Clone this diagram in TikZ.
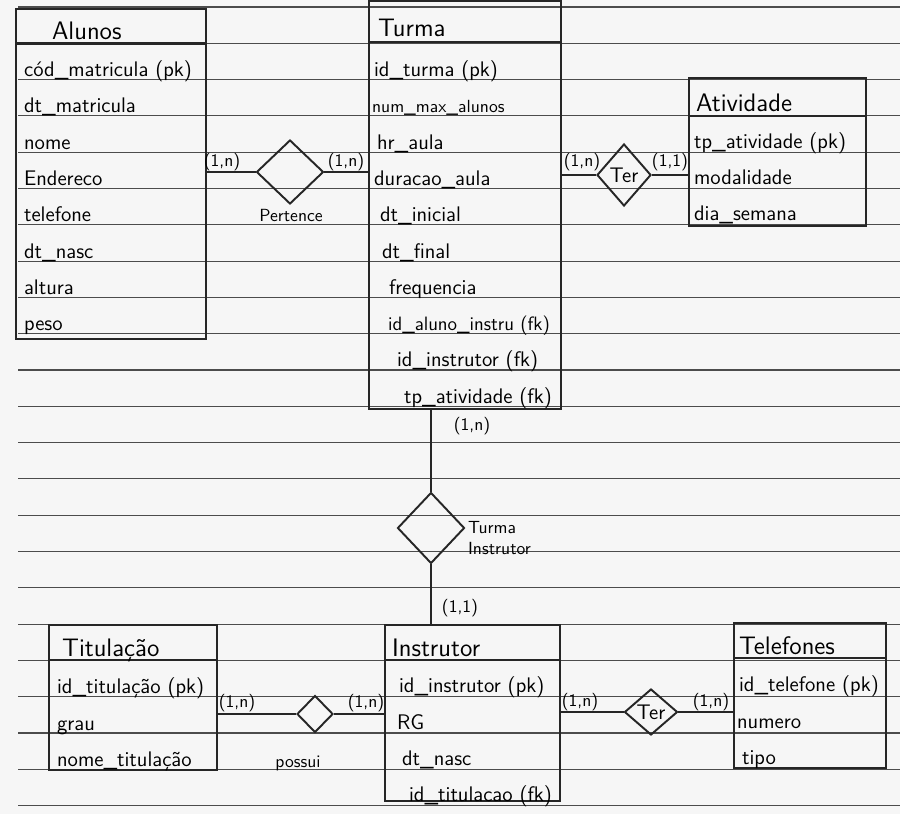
\documentclass[tikz,border=0pt]{standalone}
\usepackage{tikz}
\usetikzlibrary{shapes.geometric,positioning}
\colorlet{erink}{black!85}
\colorlet{erpaper}{gray!7}
\colorlet{errulecol}{black!70}
\tikzset{
  ertable/.style={draw=erink,line width=1.1pt,inner sep=0pt,anchor=north west},
  erhead/.style={font=\sffamily\Large,anchor=base west,inner sep=1pt},
  erattr/.style={font=\sffamily\large,anchor=base west,inner sep=1pt},
  erheadline/.style={line width=1.6pt,erink},
  errel/.style={diamond,draw=erink,line width=1.1pt,inner sep=0pt,aspect=1,
                font=\sffamily\large},
  erlink/.style={line width=1.1pt,erink},
  ercard/.style={font=\sffamily,inner sep=1pt},
  ernote/.style={font=\sffamily,align=left,inner sep=1pt},
  errule/.style={line width=0.6pt,errulecol}
}

\begin{document}
\begin{tikzpicture}[x=0.2mm,y=-0.2mm]
  \fill[erpaper] (0,0) rectangle (900,814);
  \useasboundingbox (0,0) rectangle (900,814);

  % ruled paper
  \foreach \k in {0,...,22}
    \draw[errule] (18,{7+36.3*\k}) -- (900,{7+36.3*\k});

  % entities
  \node[ertable,minimum width=190*0.2mm,minimum height=330*0.2mm] (alunos) at (15,8) {};
  \node[ertable,minimum width=192*0.2mm,minimum height=408*0.2mm] (turma) at (368,0) {};
  \node[ertable,minimum width=177*0.2mm,minimum height=148*0.2mm] (atividade) at (688,77) {};
  \node[ertable,minimum width=168*0.2mm,minimum height=145*0.2mm] (titulacao) at (48,624) {};
  \node[ertable,minimum width=175*0.2mm,minimum height=176*0.2mm] (instrutor) at (384,624) {};
  \node[ertable,minimum width=152*0.2mm,minimum height=145*0.2mm] (telefones) at (733,622) {};

  \draw[erheadline] (alunos.north west |- 0,43.3) -- (alunos.north east |- 0,43.3);
  \draw[erheadline] (turma.north west |- 0,42) -- (turma.north east |- 0,42);
  \draw[erheadline] (atividade.north west |- 0,116) -- (atividade.north east |- 0,116);
  \draw[erheadline] (titulacao.north west |- 0,660) -- (titulacao.north east |- 0,660);
  \draw[erheadline] (instrutor.north west |- 0,660) -- (instrutor.north east |- 0,660);
  \draw[erheadline] (telefones.north west |- 0,658) -- (telefones.north east |- 0,658);

  % titles
  \node[erhead] (alunos-t) at (50,40) {Alunos};
  \node[erhead] (turma-t) at (376,37) {Turma};
  \node[erhead] (atividade-t) at (694,112) {Atividade};
  \node[erhead] (titulacao-t) at (60,656) {Titulação};
  \node[erhead] (instrutor-t) at (390,656) {Instrutor};
  \node[erhead] (telefones-t) at (737,654) {Telefones};

  % attributes
  \foreach \a [count=\i] in {cód\_matricula (pk),dt\_matricula,nome,Endereco,
      telefone,dt\_nasc,altura,peso}
    \node[erattr] (alunos-\i) at (22,{7+36.3*(\i+1)-3}) {\a};
  \foreach \a/\dx [count=\i] in {id\_turma (pk)/372,{\normalsize num\_max\_alunos}/370,hr\_aula/375,
      duracao\_aula/372,dt\_inicial/378,dt\_final/380,frequencia/387,
      {\fontsize{11}{13}\selectfont id\_aluno\_instru (fk)}/386,id\_instrutor (fk)/395,
      tp\_atividade (fk)/402}
    \node[erattr] (turma-\i) at (\dx,{7+36.3*(\i+1)-3}) {\a};
  \foreach \a [count=\i] in {tp\_atividade (pk),modalidade,dia\_semana}
    \node[erattr] (atividade-\i) at (692,{7+36.3*(\i+3)-4}) {\a};
  \foreach \a [count=\i] in {id\_titulação (pk),grau,nome\_titulação}
    \node[erattr] (titulacao-\i) at (55,{7+36.3*(\i+18)-3}) {\a};
  \foreach \a/\dx [count=\i] in {id\_instrutor (pk)/397,RG/395,dt\_nasc/400,
      id\_titulacao (fk)/407}
    \node[erattr] (instrutor-\i) at (\dx,{7+36.3*(\i+18)-4}) {\a};
  \foreach \a/\dx [count=\i] in {id\_telefone (pk)/737,numero/735,tipo/740}
    \node[erattr] (telefones-\i) at (\dx,{7+36.3*(\i+18)-5}) {\a};

  % relationships
  \node[errel,minimum width=67*0.2mm,minimum height=64*0.2mm] (pertence) at (290,172) {};
  \node[errel,minimum width=54*0.2mm,minimum height=62*0.2mm] (ter1) at (624,175) {Ter};
  \node[errel,minimum width=67*0.2mm,minimum height=71*0.2mm] (turminst) at (431,528) {};
  \node[errel,minimum width=36*0.2mm,minimum height=37*0.2mm] (possui) at (315,714) {};
  \node[errel,minimum width=53*0.2mm,minimum height=46*0.2mm] (ter2) at (651,712) {Ter};

  \node[ernote] (pertence-l) at (291,216) {Pertence};
  \node[ernote,anchor=west] (turminst-l) at (466,538) {Turma\\Instrutor};
  \node[ernote] (possui-l) at (298,763) {possui};

  % connectors
  \draw[erlink] (alunos.east |- pertence.west) -- (pertence.west);
  \draw[erlink] (pertence.east) -- (pertence.east -| turma.west);
  \draw[erlink] (turma.east |- ter1.west) -- (ter1.west);
  \draw[erlink] (ter1.east) -- (ter1.east -| atividade.west);
  \draw[erlink] (turminst.north |- turma.south) -- (turminst.north);
  \draw[erlink] (turminst.south) -- (turminst.south |- instrutor.north);
  \draw[erlink] (titulacao.east |- possui.west) -- (possui.west);
  \draw[erlink] (possui.east) -- (possui.east -| instrutor.west);
  \draw[erlink] (instrutor.east |- ter2.west) -- (ter2.west);
  \draw[erlink] (ter2.east) -- (ter2.east -| telefones.west);

  % cardinalities
  \node[ercard] (c-al) at (222,162) {(1,n)};
  \node[ercard] (c-tu) at (346,162) {(1,n)};
  \node[ercard] (c-tu2) at (582,162) {(1,n)};
  \node[ercard] (c-at) at (670,162) {(1,1)};
  \node[ercard] (c-tu3) at (472,426) {(1,n)};
  \node[ercard] (c-in) at (460,608) {(1,1)};
  \node[ercard] (c-ti) at (237,703) {(1,n)};
  \node[ercard] (c-in2) at (366,703) {(1,n)};
  \node[ercard] (c-in3) at (580,702) {(1,n)};
  \node[ercard] (c-te) at (711,702) {(1,n)};
\end{tikzpicture}
\end{document}
